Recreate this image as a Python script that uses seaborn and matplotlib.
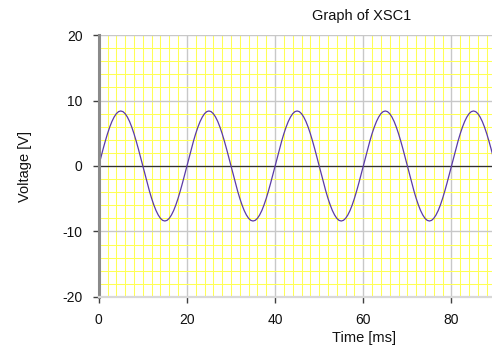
import numpy as np
import pandas as pd
import matplotlib
matplotlib.use("Agg")
import matplotlib.pyplot as plt
from matplotlib.ticker import MultipleLocator
import seaborn as sns

sample_step_ms = 0.5
voltage = [
    0.00, 1.31, 2.60, 3.81, 4.94, 5.94, 6.80, 7.48, 7.99, 8.30,
    8.40, 8.30, 7.99, 7.48, 6.80, 5.94, 4.94, 3.81, 2.60, 1.31,
    0.00, -1.31, -2.60, -3.81, -4.94, -5.94, -6.80, -7.48, -7.99, -8.30,
    -8.40, -8.30, -7.99, -7.48, -6.80, -5.94, -4.94, -3.81, -2.60, -1.31,
    0.00, 1.31, 2.60, 3.81, 4.94, 5.94, 6.80, 7.48, 7.99, 8.30,
    8.40, 8.30, 7.99, 7.48, 6.80, 5.94, 4.94, 3.81, 2.60, 1.31,
    0.00, -1.31, -2.60, -3.81, -4.94, -5.94, -6.80, -7.48, -7.99, -8.30,
    -8.40, -8.30, -7.99, -7.48, -6.80, -5.94, -4.94, -3.81, -2.60, -1.31,
    0.00, 1.31, 2.60, 3.81, 4.94, 5.94, 6.80, 7.48, 7.99, 8.30,
    8.40, 8.30, 7.99, 7.48, 6.80, 5.94, 4.94, 3.81, 2.60, 1.31,
    0.00, -1.31, -2.60, -3.81, -4.94, -5.94, -6.80, -7.48, -7.99, -8.30,
    -8.40, -8.30, -7.99, -7.48, -6.80, -5.94, -4.94, -3.81, -2.60, -1.31,
    0.00, 1.31, 2.60, 3.81, 4.94, 5.94, 6.80, 7.48, 7.99, 8.30,
    8.40, 8.30, 7.99, 7.48, 6.80, 5.94, 4.94, 3.81, 2.60, 1.31,
    0.00, -1.31, -2.60, -3.81, -4.94, -5.94, -6.80, -7.48, -7.99, -8.30,
    -8.40, -8.30, -7.99, -7.48, -6.80, -5.94, -4.94, -3.81, -2.60, -1.31,
    0.00, 1.31, 2.60, 3.81, 4.94, 5.94, 6.80, 7.48, 7.99, 8.30,
    8.40, 8.30, 7.99, 7.48, 6.80, 5.94, 4.94, 3.81, 2.60, 1.31,
]
time_ms = np.arange(len(voltage)) * sample_step_ms

x_ticks = [0, 20, 40, 60, 80]
y_ticks = [-20, -10, 0, 10, 20]

title_text = "Graph of XSC1"
x_label = "Time [ms]"
y_label = "Voltage [V]"

df = pd.DataFrame({"t": time_ms, "v": voltage})

# ---- style ----
sns.set_theme(style="white")
plt.rcParams["font.family"] = ["Liberation Sans", "DejaVu Sans"]
plt.rcParams["axes.unicode_minus"] = False

fig = plt.figure(figsize=(4.92, 3.48), dpi=100)
ax = fig.add_axes([0.2006, 0.1466, 0.7994, 0.7528])

ax.set_xlim(0, 89.2)
ax.set_ylim(-20, 20)

ax.xaxis.set_major_locator(plt.FixedLocator(x_ticks))
ax.yaxis.set_major_locator(plt.FixedLocator(y_ticks))
ax.xaxis.set_minor_locator(MultipleLocator(2))
ax.yaxis.set_minor_locator(MultipleLocator(2))

ax.grid(which="minor", color="#ffff55", linewidth=0.75, zorder=0)
ax.grid(which="major", color="#c8c8c8", linewidth=1.0, zorder=0.5)
ax.set_axisbelow(True)

ax.axhline(0, color="#303030", linewidth=0.9, zorder=1)

sns.lineplot(data=df, x="t", y="v", ax=ax, color="#5a3aa8",
             linewidth=0.9, zorder=2)

for side in ["top", "right"]:
    ax.spines[side].set_visible(False)
ax.spines["left"].set_color("#8a8a8a")
ax.spines["left"].set_linewidth(2.2)
ax.spines["bottom"].set_color("#d8d8d8")
ax.spines["bottom"].set_linewidth(1.6)

ax.tick_params(which="major", direction="out", length=4.5, width=1,
               color="#404040", labelsize=10, pad=7.0, labelcolor="#111111",
               bottom=True, left=True)
ax.tick_params(which="minor", length=0)

ax.set_xlabel("")
ax.set_ylabel("")
fig.text(364 / 492, 1 - 338 / 348, x_label, ha="center", va="center",
         fontsize=10.5, color="#111111")
fig.text(24.5 / 492, 1 - 166 / 348, y_label, ha="center", va="center",
         rotation=90, fontsize=10.5, color="#111111")
fig.text(362 / 492, 1 - 16 / 348, title_text, ha="center", va="center",
         fontsize=10.5, color="#111111")

fig.savefig("out.png", dpi=100)
